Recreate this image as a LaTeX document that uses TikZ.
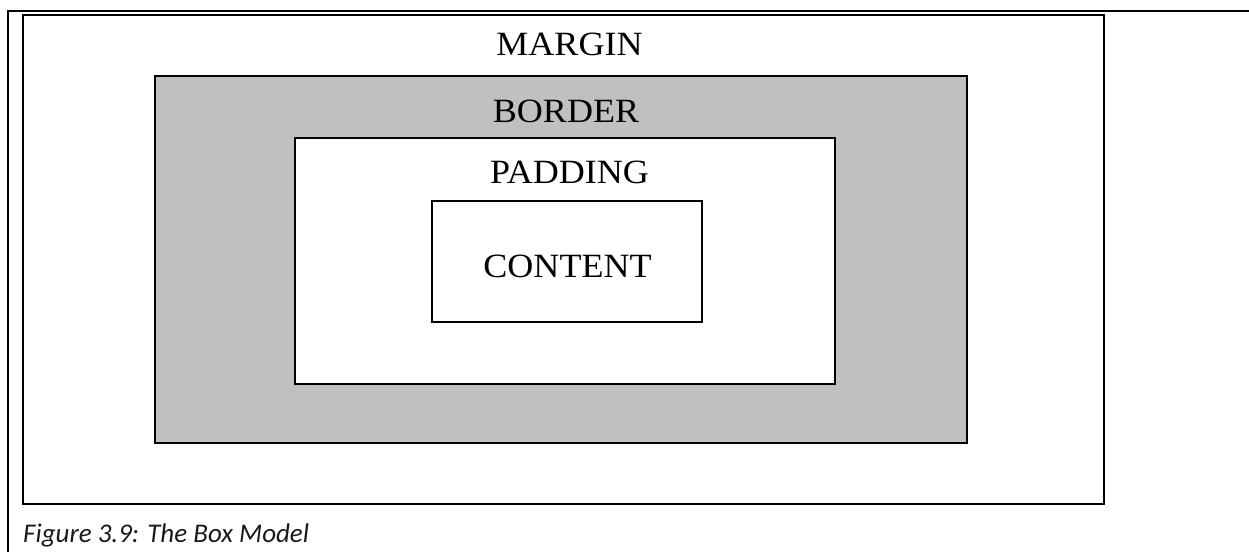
\documentclass[tikz,border=0pt]{standalone}
\usepackage{fontspec}
\setmainfont{Liberation Serif}
\newfontfamily\labelfont[FakeStretch=1.06]{Liberation Serif}
\newfontfamily\captionfont{Carlito}
\definecolor{bordergray}{HTML}{C0C0C0}
\definecolor{captiontext}{HTML}{1A1A1A}
\begin{document}
\begin{tikzpicture}[x=1pt,y=-1pt,
  layerbox/.style={draw=black, line width=2pt, rectangle, inner sep=0pt, outer sep=0pt},
  layerlabel/.style={anchor=base, inner sep=0pt, font=\labelfont\fontsize{34}{40}\selectfont},
  figcaption/.style={anchor=base west, inner sep=0pt, text=captiontext,
    font=\captionfont\itshape\fontsize{27}{32}\selectfont}]
  \useasboundingbox (0,0) rectangle (1249,552);
  \fill[white] (0,0) rectangle (1249,552);

  % page frame lines
  \coordinate (frameTL) at (8,11);
  \coordinate (frameTR) at (1249,11);
  \coordinate (frameBL) at (8,552);
  \draw[line width=2.5pt] (frameTR) -- (frameTL) -- (frameBL);

  % nested layers of the box model
  \node[layerbox, minimum width=1081pt, minimum height=489pt] (margin) at (563.5,259.5) {};
  \node[layerbox, fill=bordergray, minimum width=812pt, minimum height=367pt] (border) at (561,259.5) {};
  \node[layerbox, fill=white, minimum width=540pt, minimum height=246pt] (padding) at (565,261) {};
  \node[layerbox, fill=white, minimum width=270pt, minimum height=121pt] (content) at (567,261.5) {};

  % layer names
  \node[layerlabel] (marginlabel) at (569.5,55) {MARGIN};
  \node[layerlabel] (borderlabel) at (566,122) {BORDER};
  \node[layerlabel] (paddinglabel) at (569.5,183) {PADDING};
  \node[layerlabel] (contentlabel) at (567.5,277) {CONTENT};

  % caption
  \node[figcaption] (caption) at (23,542) {Figure 3.9: The Box Model};
\end{tikzpicture}
\end{document}
